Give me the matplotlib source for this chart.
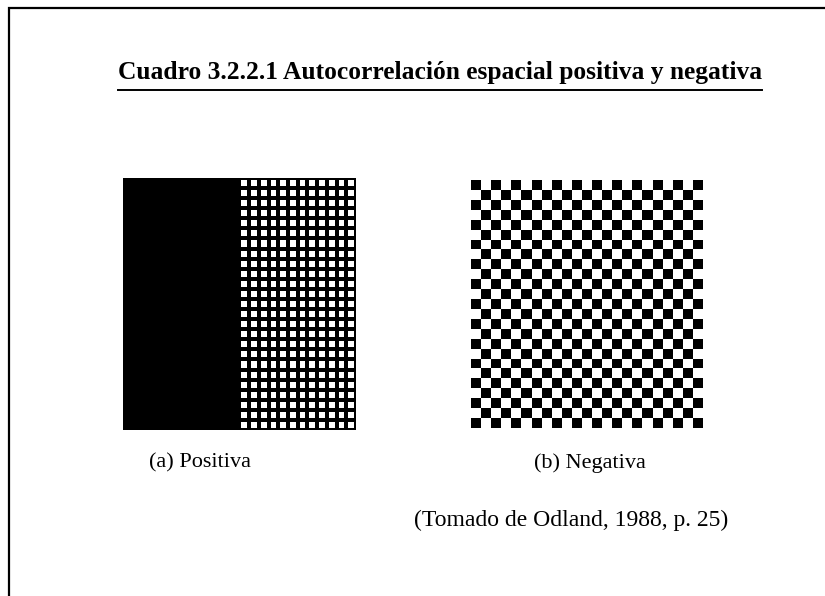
import numpy as np
import matplotlib
matplotlib.use("Agg")
import matplotlib.pyplot as plt
from matplotlib.patches import Rectangle

# ---- data ----
title = "Cuadro 3.2.2.1 Autocorrelación espacial positiva y negativa"
caption_a = "(a) Positiva"
caption_b = "(b) Negativa"
source = "(Tomado de Odland, 1988, p. 25)"

pos_rows = 25          # rows of the positive pattern
pos_black_cols = 12    # solid black half
pos_white_cols = 12    # white cells half
neg_rows = 25          # rows of the checkerboard
neg_cols = 23          # columns of the checkerboard

W, H = 825, 596
fig = plt.figure(figsize=(W / 100, H / 100), dpi=100)
fig.patch.set_facecolor("white")

def px_axes(x0, y0, x1, y1):
    return fig.add_axes([x0 / W, 1 - y1 / H, (x1 - x0) / W, (y1 - y0) / H])

# frame (open to the right and bottom)
fig.add_artist(Rectangle((8.5 / W, -0.2), 1.2, 1.2 - 7.5 / H,
                         transform=fig.transFigure, fill=False,
                         edgecolor="black", linewidth=1.6, clip_on=False))

serif = ["Liberation Serif", "DejaVu Serif"]

# title
t = fig.text(440 / W, 1 - 73 / H, title, ha="center", va="center",
             fontsize=18.4, fontweight="bold", family=serif)
fig.canvas.draw()
bb = t.get_window_extent()
fig.add_artist(plt.Line2D([bb.x0 / W, bb.x1 / W], [1 - 90 / H, 1 - 90 / H],
                          transform=fig.transFigure, color="black", linewidth=1.4))

# ---- positive panel ----
ax1 = px_axes(123, 178, 356, 430)
pos = np.zeros((pos_rows, pos_black_cols + pos_white_cols))
pos[:, :pos_black_cols] = 1
ax1.pcolormesh(np.arange(pos_black_cols + pos_white_cols + 1),
               np.arange(pos_rows + 1), pos, cmap="gray_r",
               vmin=0, vmax=1, edgecolors="black", linewidth=2.6)
ax1.set_xlim(0, pos_black_cols + pos_white_cols)
ax1.set_ylim(0, pos_rows)
ax1.set_axis_off()

# ---- negative panel ----
ax2 = px_axes(471, 180, 703, 428)
r, c = np.indices((neg_rows, neg_cols))
neg = ((r + c) % 2 == 0).astype(float)
ax2.pcolormesh(np.arange(neg_cols + 1), np.arange(neg_rows + 1), neg,
               cmap="gray_r", vmin=0, vmax=1)
ax2.set_xlim(0, neg_cols)
ax2.set_ylim(neg_rows, 0)
ax2.set_axis_off()

# captions
fig.text(200 / W, 1 - 463 / H, caption_a, ha="center", va="center",
         fontsize=16, family=serif)
fig.text(590 / W, 1 - 463 / H, caption_b, ha="center", va="center",
         fontsize=16, family=serif)
fig.text(571 / W, 1 - 520 / H, source, ha="center", va="center",
         fontsize=17, family=serif)

fig.savefig("out.png", dpi=100, facecolor="white")
